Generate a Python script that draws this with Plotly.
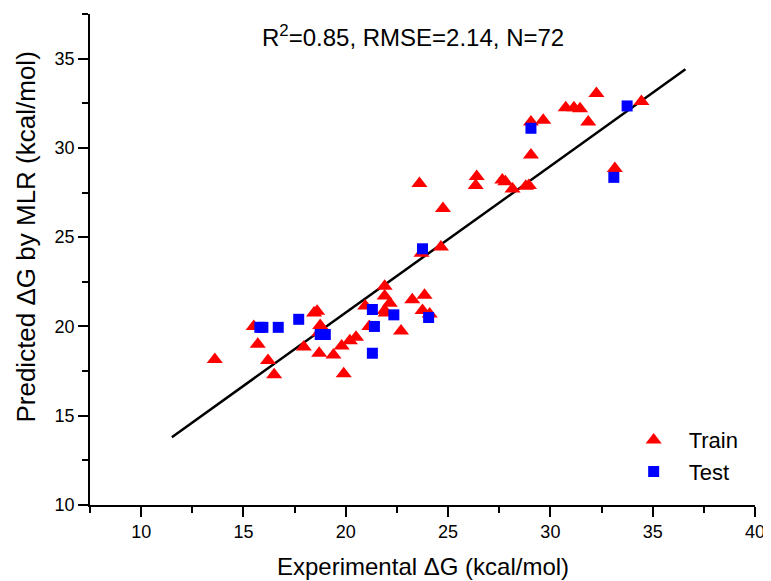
import plotly.graph_objects as go

# Training set (triangles): experimental vs predicted ΔG (kcal/mol)
train_exp = [13.6, 15.5, 15.7, 16.2, 16.5, 17.95, 18.45, 18.6, 18.7, 18.75, 18.7,
             19.4, 19.8, 19.9, 20.2, 20.5, 20.95, 21.15, 21.9, 21.9, 22.15, 21.9,
             21.95, 22.7, 23.25, 23.85, 23.75, 24.1, 23.6, 23.7, 24.65, 24.75,
             26.4, 26.35, 27.65, 27.8, 28.15, 28.8, 28.95, 29.05, 29.05, 29.65,
             30.75, 31.15, 31.45, 31.85, 32.25, 33.15, 34.45]
train_pred = [18.15, 20.0, 19.0, 18.1, 17.3, 18.85, 20.75, 20.85, 18.5, 20.05, 19.65,
              18.4, 18.9, 17.35, 19.2, 19.4, 21.15, 20.0, 22.25, 21.7, 21.3, 20.9,
              20.75, 19.75, 21.5, 21.75, 20.9, 20.7, 28.0, 24.1, 24.45, 26.6,
              28.4, 27.9, 28.2, 28.1, 27.7, 27.85, 27.9, 29.6, 31.45, 31.55,
              32.25, 32.25, 32.2, 31.45, 33.05, 28.85, 32.6]

# Test set (squares)
test_exp = [15.8, 15.95, 16.7, 17.7, 18.75, 19.0, 21.3, 21.4, 21.3, 22.35, 24.05,
            23.75, 29.05, 33.1, 33.75]
test_pred = [19.95, 19.95, 19.95, 20.4, 19.55, 19.55, 20.95, 20.0, 18.5, 20.65, 20.5,
             24.35, 31.1, 28.35, 32.35]

# Fitted line endpoints
line_x = [11.5, 36.6]
line_y = [13.8, 34.4]

x_ticks = [10, 15, 20, 25, 30, 35, 40]
y_ticks = [10, 15, 20, 25, 30, 35]

FONT = "Liberation Sans, Arial, sans-serif"

fig = go.Figure()
fig.add_trace(go.Scatter(x=line_x, y=line_y, mode="lines",
                         line=dict(color="black", width=2.5),
                         showlegend=False, hoverinfo="skip"))
fig.add_trace(go.Scatter(x=train_exp, y=train_pred, mode="markers", name="Train",
                         marker=dict(symbol="triangle-up", size=14, color="#ff0000",
                                     line=dict(width=0))))
fig.add_trace(go.Scatter(x=test_exp, y=test_pred, mode="markers", name="Test",
                         marker=dict(symbol="square", size=11, color="#0000ff",
                                     line=dict(width=0))))

axis_common = dict(showline=True, linecolor="black", linewidth=1.5,
                   ticks="outside", ticklen=10, tickwidth=1.5, tickcolor="black",
                   showgrid=False, zeroline=False, mirror=False,
                   tickfont=dict(family=FONT, size=18, color="black"))

fig.update_xaxes(range=[7.5, 40], tickvals=x_ticks,
                 minor=dict(ticks="outside", dtick=2.5, tick0=0, ticklen=6,
                            tickwidth=1.5, tickcolor="black", showgrid=False),
                 **axis_common)
fig.update_yaxes(range=[10, 37.5], tickvals=y_ticks,
                 minor=dict(ticks="outside", dtick=2.5, tick0=0, ticklen=6,
                            tickwidth=1.5, tickcolor="black", showgrid=False),
                 **axis_common)

fig.add_annotation(text="R<sup>2</sup>=0.85, RMSE=2.14, N=72", xref="paper", yref="paper",
                   x=0.4856, y=0.956, xanchor="center", yanchor="middle", showarrow=False,
                   font=dict(family=FONT, size=24, color="black"))
fig.add_annotation(text="Experimental ΔG (kcal/mol)", xref="paper", yref="paper",
                   x=0.5, y=-0.126, xanchor="center", yanchor="middle", showarrow=False,
                   font=dict(family=FONT, size=24, color="black"))
fig.add_annotation(text="Predicted ΔG by MLR (kcal/mol)", xref="paper", yref="paper",
                   x=-0.096, y=0.545, xanchor="center", yanchor="middle", showarrow=False,
                   textangle=-90, font=dict(family=FONT, size=26, color="black"))

# The page body has an 8px default margin, so the figure is 8px smaller than the window.
fig.update_layout(width=763, height=573,
                  margin=dict(l=82, r=12, t=6, b=76),
                  paper_bgcolor="white", plot_bgcolor="white",
                  legend=dict(x=0.795, y=0.175, xanchor="left", yanchor="top",
                              bgcolor="rgba(0,0,0,0)", borderwidth=0,
                              font=dict(family=FONT, size=22, color="black"),
                              itemwidth=60, tracegroupgap=0))

fig.write_html("out.html")
